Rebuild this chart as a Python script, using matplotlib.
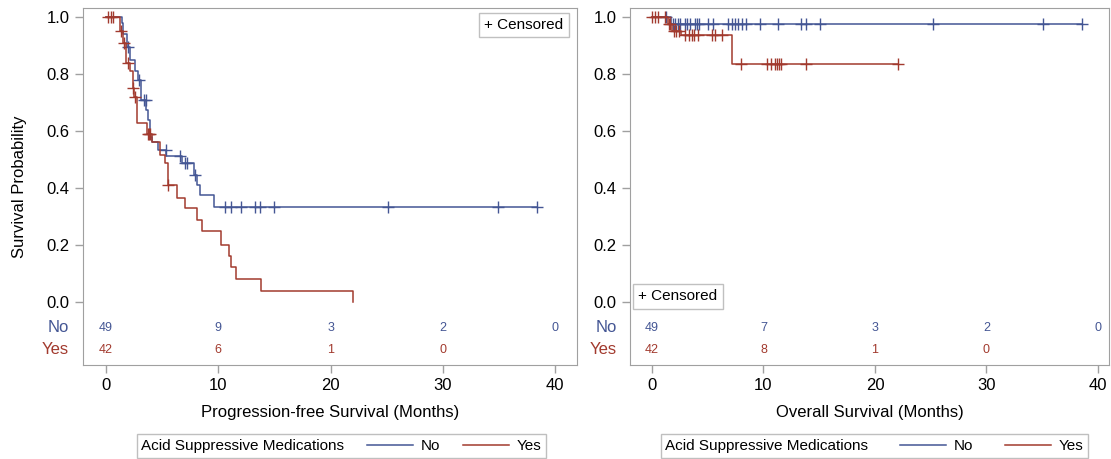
import numpy as np
import matplotlib
matplotlib.use("Agg")
import matplotlib.pyplot as plt
from matplotlib.lines import Line2D

plt.rcParams['font.family'] = ['Liberation Sans', 'DejaVu Sans']

# --- data ---
# Progression-free survival, group "No"
pfs_no_t = [0, 1.4, 1.55, 1.85, 2.14, 2.58, 2.86, 3.15, 3.6, 3.75, 3.9, 4.14,
            4.67, 5.36, 6.76, 7.8, 8.1, 8.4, 9.64, 38.4]
pfs_no_s = [1.0, 0.98, 0.94, 0.896, 0.85, 0.81, 0.78, 0.71, 0.674, 0.64, 0.58,
            0.562, 0.533, 0.513, 0.487, 0.446, 0.41, 0.375, 0.334, 0.334]
pfs_no_cens = [2.0, 2.9, 3.4, 3.55, 5.3, 6.6, 7.0, 7.2, 7.9, 10.6, 11.1, 12.0,
               13.3, 13.75, 15.0, 25.1, 34.9, 38.4]

# Progression-free survival, group "Yes"
pfs_yes_t = [0, 1.25, 1.55, 1.79, 2.14, 2.38, 2.5, 2.74, 3.63, 4.08, 4.82, 5.27,
             5.5, 6.3, 7.05, 8.1, 8.55, 10.2, 11.0, 11.1, 11.6, 13.8, 22.0]
pfs_yes_s = [1.0, 0.95, 0.91, 0.84, 0.81, 0.75, 0.72, 0.627, 0.59, 0.562, 0.516,
             0.487, 0.41, 0.364, 0.329, 0.288, 0.248, 0.20, 0.161, 0.122, 0.081,
             0.039, 0.0]
pfs_yes_cens = [0.2, 0.45, 0.6, 1.3, 1.6, 2.0, 2.4, 2.55, 3.7, 3.8, 3.9, 5.55]

# Overall survival, group "No"
os_no_t = [0, 1.7, 38.6]
os_no_s = [1.0, 0.976, 0.976]
os_no_cens = [1.3, 1.9, 2.1, 2.3, 2.5, 2.96, 3.17, 3.4, 3.86, 4.0, 4.24, 5.05,
              5.5, 6.84, 7.15, 7.44, 7.74, 8.04, 8.43, 9.69, 11.27, 13.36,
              13.81, 15.07, 25.17, 35.04, 38.6]

# Overall survival, group "Yes"
os_yes_t = [0, 1.4, 1.8, 2.6, 7.15, 22.1]
os_yes_s = [1.0, 0.976, 0.952, 0.937, 0.837, 0.837]
os_yes_cens = [0.0, 0.3, 0.5, 1.2, 1.5, 1.6, 2.0, 2.2, 2.4, 2.96, 3.3, 3.6,
               3.8, 4.1, 5.35, 5.65, 6.25, 8.0, 10.3, 10.7, 11.0, 11.2, 11.4,
               11.6, 13.8, 22.1]

# numbers at risk
risk_times = [0, 10, 20, 30, 40]
pfs_risk_no = [49, 9, 3, 2, 0]
pfs_risk_yes = [42, 6, 1, 0]
os_risk_no = [49, 7, 3, 2, 0]
os_risk_yes = [42, 8, 1, 0]

group_title = "Acid Suppressive Medications"
groups = ["No", "Yes"]

blue = "#445694"
red = "#A23A2E"
gray = "#a0a0a0"


def level_at(times, surv, t):
    i = np.searchsorted(times, t, side="right") - 1
    return np.asarray(surv)[i]


def km_panel(ax, curves, risks, xlabel, xlim, cens_xy, cens_align, legend_x, colspace):
    for (t, s, c), col in zip(curves, [blue, red]):
        ax.step(t, s, where="post", color=col, lw=1.1)
        ax.plot(c, [level_at(t, s, x) for x in c], ls="none", marker="+",
                ms=8, mew=1.0, color=col)

    # risk table inside the plot box
    for row_y, counts, col, name in zip([-0.091, -0.168], risks, [blue, red], groups):
        for x, n in zip(risk_times, counts):
            ax.text(x, row_y, str(n), color=col, fontsize=9, ha="center", va="center")
        ax.text(-0.028, row_y, name, color=col, fontsize=12, ha="right", va="center",
                transform=ax.get_yaxis_transform())

    ax.set_xlim(*xlim)
    ax.set_ylim(-0.221, 1.032)
    ax.set_xticks(risk_times)
    ax.set_yticks(np.arange(0, 1.01, 0.2))
    ax.set_yticklabels([f"{v:.1f}" for v in np.arange(0, 1.01, 0.2)])
    ax.tick_params(direction="out", color=gray, labelsize=12, length=6, width=1)
    ax.tick_params(axis="x", pad=3)
    for sp in ax.spines.values():
        sp.set_color(gray)
    ax.set_xlabel(xlabel, fontsize=12, labelpad=9)

    # censored box
    ha, va = cens_align
    ax.text(cens_xy[0], cens_xy[1], "+ Censored", transform=ax.transAxes,
            ha=ha, va=va, fontsize=11,
            bbox=dict(boxstyle="square,pad=0.35", fc="white", ec="#c0c0c0"))

    blank = Line2D([], [], color="none")
    h_no = Line2D([], [], color=blue, lw=1.1)
    h_yes = Line2D([], [], color=red, lw=1.1)
    leg = ax.legend([blank, h_no, h_yes], [group_title] + groups, ncol=3,
                    loc="center", bbox_to_anchor=(legend_x, -0.227),
                    frameon=True, fancybox=False, edgecolor="#b0b0b0",
                    fontsize=11, handlelength=3.0, columnspacing=colspace,
                    handletextpad=0.5, borderpad=0.3, borderaxespad=0)
    leg.get_frame().set_linewidth(1.0)
    first = leg._legend_handle_box.get_children()[0].get_children()[0]
    first.get_children()[0].width = 0
    first.sep = 0


fig = plt.figure(figsize=(11.11, 4.59), dpi=100)
ax1 = fig.add_axes([83 / 1111, 94 / 459, 494 / 1111, 357 / 459])
ax2 = fig.add_axes([630 / 1111, 94 / 459, 479 / 1111, 357 / 459])

km_panel(ax1,
         [(pfs_no_t, pfs_no_s, pfs_no_cens), (pfs_yes_t, pfs_yes_s, pfs_yes_cens)],
         [pfs_risk_no, pfs_risk_yes],
         "Progression-free Survival (Months)", (-2.05, 41.96),
         (0.972, 0.972), ("right", "top"), 0.523, 1.5)
km_panel(ax2,
         [(os_no_t, os_no_s, os_no_cens), (os_yes_t, os_yes_s, os_yes_cens)],
         [os_risk_no, os_risk_yes],
         "Overall Survival (Months)", (-1.97, 40.99),
         (0.017, 0.192), ("left", "center"), 0.51, 2.1)

ax1.set_ylabel("Survival Probability", fontsize=12, labelpad=14)

fig.savefig("out.png", dpi=100)
